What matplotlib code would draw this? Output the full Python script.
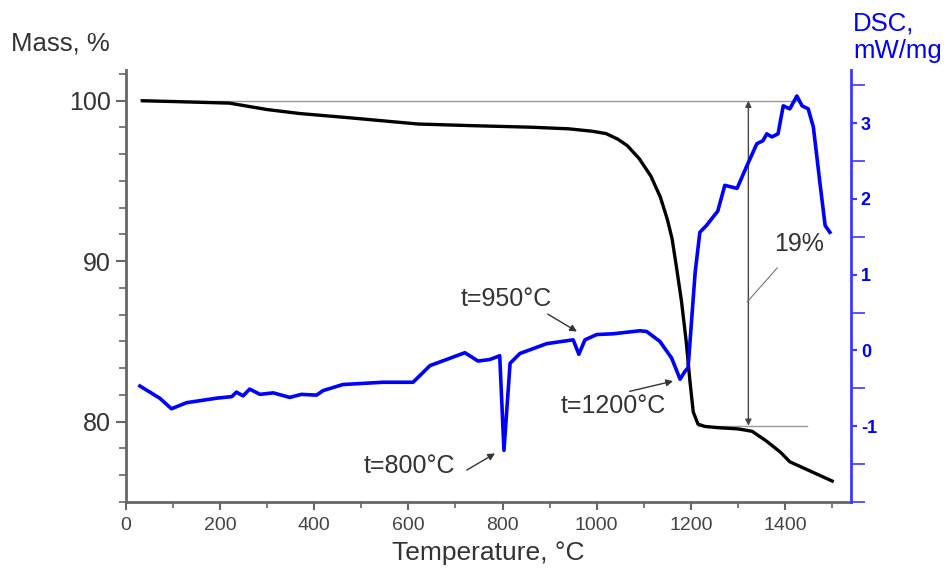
import numpy as np
import matplotlib.pyplot as plt
from matplotlib.ticker import MultipleLocator

plt.rcParams['font.family'] = ['Liberation Sans', 'DejaVu Sans']
plt.rcParams['axes.unicode_minus'] = False

# mass curve (TG)
t_mass = [35, 100, 160, 220, 260, 300, 370, 470, 620, 730, 860, 940, 990, 1020, 1045,
          1065, 1090, 1115, 1135, 1150, 1160, 1170, 1180, 1190, 1198, 1205, 1215, 1230,
          1260, 1300, 1330, 1360, 1390, 1410, 1440, 1470, 1500]
mass = [100.0, 99.95, 99.9, 99.85, 99.65, 99.45, 99.2, 98.95, 98.55, 98.45, 98.35, 98.25,
        98.1, 97.95, 97.6, 97.2, 96.4, 95.3, 94.0, 92.6, 91.4, 89.5, 87.5, 85.0, 82.5,
        80.6, 79.85, 79.7, 79.62, 79.55, 79.4, 78.8, 78.1, 77.5, 77.1, 76.7, 76.3]

# DSC curve
t_dsc = [30, 72, 97, 129, 193, 225, 235, 249, 263, 285, 313, 348, 373, 405, 419, 461,
         546, 610, 646, 681, 720, 748, 773, 794, 803, 816, 837, 894, 950, 962, 975, 1000,
         1035, 1092, 1106, 1134, 1159, 1177, 1188, 1194, 1209, 1219, 1233, 1257, 1272,
         1298, 1319, 1340, 1353, 1361, 1372, 1385, 1396, 1410, 1425, 1436, 1449, 1460,
         1474, 1485, 1495]
dsc = [-0.47, -0.63, -0.77, -0.69, -0.63, -0.61, -0.55, -0.6, -0.51, -0.58, -0.56, -0.62,
       -0.58, -0.59, -0.53, -0.45, -0.42, -0.42, -0.2, -0.12, -0.03, -0.14, -0.12, -0.07,
       -1.32, -0.17, -0.04, 0.09, 0.14, -0.05, 0.14, 0.21, 0.22, 0.26, 0.25, 0.12, -0.1,
       -0.38, -0.27, -0.23, 1.03, 1.56, 1.65, 1.84, 2.18, 2.14, 2.44, 2.73, 2.77, 2.86,
       2.82, 2.86, 3.23, 3.19, 3.36, 3.23, 3.19, 2.95, 2.21, 1.65, 1.56]

x_ticks = [0, 200, 400, 600, 800, 1000, 1200, 1400]
mass_ticks = [80, 90, 100]
dsc_ticks = [-1, 0, 1, 2, 3]

gray = '#666666'
blue = '#0000ff'

fig = plt.figure(figsize=(9.53, 5.71), dpi=100)
ax = fig.add_axes([0.132, 0.121, 0.761, 0.756])
ax2 = ax.twinx()

ax.plot(t_mass, mass, color='black', lw=2.4, zorder=3)
ax2.plot(t_dsc, dsc, color=blue, lw=2.6, zorder=3)

# 19% mass loss markers
ax.plot([35, 1430], [100, 100], color='#999999', lw=1.0)
ax.plot([1215, 1446], [79.75, 79.75], color='#999999', lw=1.0)
ax.annotate('', xy=(1322, 100), xytext=(1322, 79.75),
            arrowprops=dict(arrowstyle='<|-|>', color='#444444', lw=1.0,
                            mutation_scale=9, shrinkA=0, shrinkB=0))
ax.annotate('19%', xy=(1319, 87.45), xytext=(1429, 91.1), fontsize=18, color='#333333',
            ha='center', va='center',
            arrowprops=dict(arrowstyle='-', color='#777777', lw=0.8, shrinkA=9, shrinkB=0))

ax.set_xlim(0, 1540)
ax.set_ylim(75, 101.9)
ax2.set_ylim(-2.0, 3.7)

ax.set_xticks(x_ticks)
ax.xaxis.set_minor_locator(MultipleLocator(100))
ax.set_yticks(mass_ticks)
ax.yaxis.set_minor_locator(MultipleLocator(10 / 6))
ax2.set_yticks(dsc_ticks)
ax2.yaxis.set_minor_locator(MultipleLocator(0.5))

ax.spines['top'].set_visible(False)
ax2.spines['top'].set_visible(False)
ax.spines['right'].set_visible(False)
ax2.spines['left'].set_visible(False)
ax2.spines['bottom'].set_visible(False)
for s in ['left', 'bottom']:
    ax.spines[s].set_color(gray)
    ax.spines[s].set_linewidth(2)
ax2.spines['right'].set_color('#3a3aff')
ax2.spines['right'].set_linewidth(2)

ax.tick_params(axis='x', which='major', length=6, width=1.5, color=gray,
               labelsize=14, labelcolor='#444444', pad=5)
ax.tick_params(axis='x', which='minor', length=4, width=1.2, color=gray)
ax.tick_params(axis='y', which='major', length=7, width=1.5, color=gray,
               labelsize=18, labelcolor='#333333', pad=4)
ax.tick_params(axis='y', which='minor', length=5, width=1.2, color=gray)
ax2.tick_params(axis='y', which='major', length=4, width=1.5, color='#3a3aff',
                labelsize=13, labelcolor=blue, pad=3)
ax2.tick_params(axis='y', which='minor', length=10, width=1.2, color='#3a3aff')
for lab in ax2.get_yticklabels():
    lab.set_fontweight('bold')

ax.set_xlabel('Temperature, °C', fontsize=19, color='#333333', labelpad=5)
fig.text(0.012, 0.923, 'Mass, %', fontsize=18.5, color='#333333', va='center', ha='left')
fig.text(0.895, 0.935, 'DSC,\nmW/mg', fontsize=18.5, color=blue, va='center', ha='left',
         linespacing=1.15)

# peak annotations
arrow = dict(arrowstyle='-|>', color='#333333', lw=1.0, mutation_scale=10, shrinkA=0, shrinkB=0)
ax2.annotate('', xy=(958, 0.25), xytext=(896, 0.48), arrowprops=arrow)
ax2.text(807, 0.68, 't=950°C', fontsize=18, color='#333333', ha='center', va='center')
ax2.annotate('', xy=(1162, -0.405), xytext=(1070, -0.54), arrowprops=arrow)
ax2.text(1036, -0.73, 't=1200°C', fontsize=18, color='#333333', ha='center', va='center')
ax2.annotate('', xy=(784, -1.36), xytext=(724, -1.58), arrowprops=arrow)
ax2.text(603, -1.53, 't=800°C', fontsize=18, color='#333333', ha='center', va='center')

fig.savefig('out.png', dpi=100)
